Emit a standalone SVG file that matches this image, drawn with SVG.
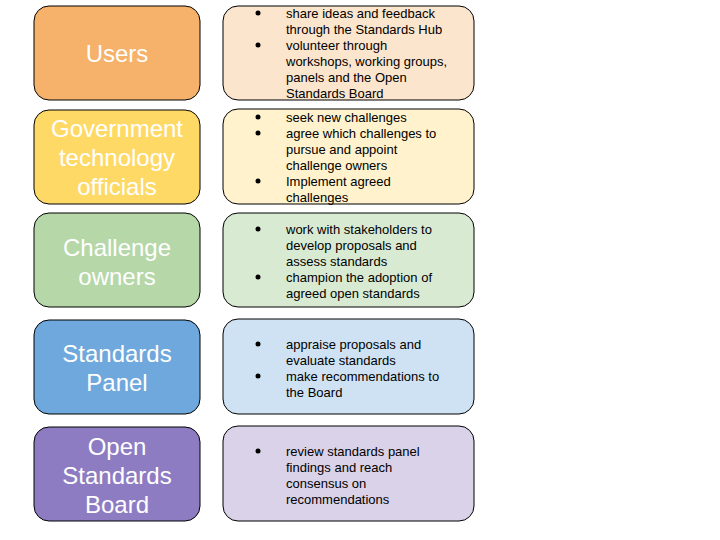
<svg xmlns="http://www.w3.org/2000/svg" width="720" height="540" viewBox="0 0 720 540">
  <style>
    .box { stroke: #000; stroke-width: 1; }
    .role { font-family: "Liberation Sans", Arial, sans-serif; font-size: 24px; fill: #fff; text-anchor: middle; }
    .duty { font-family: "Liberation Sans", Arial, sans-serif; font-size: 13px; fill: #000; }
    .dot { fill: #000; }
  </style>
  <rect width="720" height="540" fill="#fff"/>

  <g id="users">
    <rect class="box" x="34" y="6" width="166" height="94" rx="15" fill="#f6b26b"/>
    <text class="role" x="117" y="62">Users</text>
  </g>
  <g id="users-duties">
    <rect class="box" x="223" y="6" width="251" height="94" rx="15" fill="#fce5cd"/>
    <circle class="dot" cx="258" cy="13" r="2.5"/>
    <circle class="dot" cx="258" cy="45" r="2.5"/>
    <text class="duty" x="286" y="18">share ideas and feedback</text>
    <text class="duty" x="286" y="34">through the Standards Hub</text>
    <text class="duty" x="286" y="50">volunteer through</text>
    <text class="duty" x="286" y="66">workshops, working groups,</text>
    <text class="duty" x="286" y="82">panels and the Open</text>
    <text class="duty" x="286" y="98">Standards Board</text>
  </g>

  <g id="officials">
    <rect class="box" x="34" y="110" width="166" height="94" rx="15" fill="#ffd966"/>
    <text class="role" x="117" y="137">Government</text>
    <text class="role" x="117" y="166">technology</text>
    <text class="role" x="117" y="195">officials</text>
  </g>
  <g id="officials-duties">
    <rect class="box" x="223" y="109" width="251" height="95" rx="15" fill="#fff2cc"/>
    <circle class="dot" cx="258" cy="117" r="2.5"/>
    <circle class="dot" cx="258" cy="133" r="2.5"/>
    <circle class="dot" cx="258" cy="181" r="2.5"/>
    <text class="duty" x="286" y="122">seek new challenges</text>
    <text class="duty" x="286" y="138">agree which challenges to</text>
    <text class="duty" x="286" y="154">pursue and appoint</text>
    <text class="duty" x="286" y="170">challenge owners</text>
    <text class="duty" x="286" y="186">Implement agreed</text>
    <text class="duty" x="286" y="202">challenges</text>
  </g>

  <g id="challenge-owners">
    <rect class="box" x="34" y="213" width="166" height="94" rx="15" fill="#b6d7a8"/>
    <text class="role" x="117" y="256">Challenge</text>
    <text class="role" x="117" y="285">owners</text>
  </g>
  <g id="challenge-owners-duties">
    <rect class="box" x="223" y="213" width="251" height="94" rx="15" fill="#d9ead3"/>
    <circle class="dot" cx="258" cy="229" r="2.5"/>
    <circle class="dot" cx="258" cy="277" r="2.5"/>
    <text class="duty" x="286" y="234">work with stakeholders to</text>
    <text class="duty" x="286" y="250">develop proposals and</text>
    <text class="duty" x="286" y="266">assess standards</text>
    <text class="duty" x="286" y="282">champion the adoption of</text>
    <text class="duty" x="286" y="298">agreed open standards</text>
  </g>

  <g id="standards-panel">
    <rect class="box" x="34" y="320" width="166" height="94" rx="15" fill="#6fa8dc"/>
    <text class="role" x="117" y="362">Standards</text>
    <text class="role" x="117" y="391">Panel</text>
  </g>
  <g id="standards-panel-duties">
    <rect class="box" x="223" y="319" width="251" height="95" rx="15" fill="#cfe2f3"/>
    <circle class="dot" cx="258" cy="344" r="2.5"/>
    <circle class="dot" cx="258" cy="376" r="2.5"/>
    <text class="duty" x="286" y="349">appraise proposals and</text>
    <text class="duty" x="286" y="365">evaluate standards</text>
    <text class="duty" x="286" y="381">make recommendations to</text>
    <text class="duty" x="286" y="397">the Board</text>
  </g>

  <g id="open-standards-board">
    <rect class="box" x="34" y="427" width="166" height="94" rx="15" fill="#8e7cc3"/>
    <text class="role" x="117" y="455">Open</text>
    <text class="role" x="117" y="484">Standards</text>
    <text class="role" x="117" y="513">Board</text>
  </g>
  <g id="open-standards-board-duties">
    <rect class="box" x="223" y="426" width="251" height="95" rx="15" fill="#d9d2e9"/>
    <circle class="dot" cx="258" cy="451" r="2.5"/>
    <text class="duty" x="286" y="456">review standards panel</text>
    <text class="duty" x="286" y="472">findings and reach</text>
    <text class="duty" x="286" y="488">consensus on</text>
    <text class="duty" x="286" y="504">recommendations</text>
  </g>

  <g id="connectors"/>
</svg>
